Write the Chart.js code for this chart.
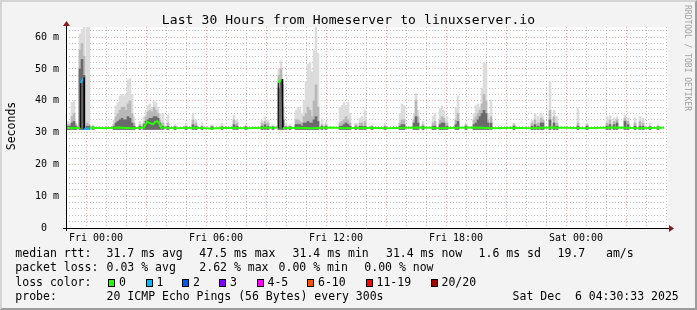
<!DOCTYPE html>
<html>
<head>
<meta charset="utf-8">
<script src="https://cdn.jsdelivr.net/npm/chart.js@4.4.1/dist/chart.umd.min.js"></script>
<style>
  body { margin: 0; background: #f3f3f3; }
  #wrap { position: relative; width: 697px; height: 310px; overflow: hidden; background: #f3f3f3;
          font-family: 'DejaVu Sans Mono', monospace; color: #000; }
  canvas { position: absolute; left: 0; top: 0; }
  .t { position: absolute; white-space: pre; font-size: 11.5px; line-height: 14px; }
  .box { position: absolute; width: 5px; height: 6px; border: 1px solid #000; top: 278.5px; }
  #title { position: absolute; left: 0; width: 697px; top: 11.5px; text-align: center;
           font-size: 13px; line-height: 16px; letter-spacing: 0.12px; white-space: pre; }
  #ylab { position: absolute; left: -19px; top: 119px; width: 60px; text-align: center;
          font-size: 11.5px; line-height: 14px; transform: rotate(-90deg); }
  #mark { position: absolute; left: 633px; top: 53px; width: 108px; text-align: center;
          font-size: 8px; line-height: 10px; color: #a0a0a0; transform: rotate(90deg); white-space: pre; }
  #frame { position: absolute; left: 0; top: 0; width: 697px; height: 310px; box-sizing: border-box;
           border-style: solid; border-width: 2px; border-color: #d4d4d4 #9c9c9c #9c9c9c #d4d4d4; pointer-events: none; }
</style>
</head>
<body>
<div id="wrap">
  <canvas id="smoke" width="697" height="310"></canvas>
  <div id="title">Last 30 Hours from Homeserver to linuxserver.io</div>
  <div id="ylab">Seconds</div>
  <div id="mark">RRDTOOL / TOBI OETIKER</div>

  <div class="t" style="left:15.3px;top:246px">median rtt:</div>
  <div class="t" style="left:106.6px;top:246px">31.7 ms avg</div>
  <div class="t" style="left:199.3px;top:246px">47.5 ms max</div>
  <div class="t" style="left:292.6px;top:246px">31.4 ms min</div>
  <div class="t" style="left:386px;top:246px">31.4 ms now</div>
  <div class="t" style="left:478.6px;top:246px">1.6 ms sd</div>
  <div class="t" style="left:557.6px;top:246px">19.7</div>
  <div class="t" style="left:606px;top:246px">am/s</div>

  <div class="t" style="left:15.3px;top:260.3px">packet loss:</div>
  <div class="t" style="left:106.6px;top:260.3px">0.03 % avg</div>
  <div class="t" style="left:199.3px;top:260.3px">2.62 % max</div>
  <div class="t" style="left:278.6px;top:260.3px">0.00 % min</div>
  <div class="t" style="left:364.3px;top:260.3px">0.00 % now</div>

  <div class="t" style="left:15.3px;top:274.5px">loss color:</div>
  <div id="lossLegend"></div>

  <div class="t" style="left:15.3px;top:288.7px">probe:</div>
  <div class="t" style="left:106.6px;top:288.7px">20 ICMP Echo Pings (56 Bytes) every 300s</div>
  <div class="t" style="left:512.6px;top:288.7px">Sat Dec  6 04:30:33 2025</div>
  <div id="frame"></div>
</div>
<script>
// x values are hours since Thu 22:30 (start of the 30 hour window)
const xTickHours = [1.5, 7.5, 13.5, 19.5, 25.5];
const xTickLabels = ["Fri 00:00", "Fri 06:00", "Fri 12:00", "Fri 18:00", "Sat 00:00"];
const yTickValues = [0, 10, 20, 30, 40, 50, 60];
const yTickLabels = ["0  ", "10 m", "20 m", "30 m", "40 m", "50 m", "60 m"];

const lossNames = ["0", "1", "2", "3", "4-5", "6-10", "11-19", "20/20"];
const lossColors = ["#26ff00", "#00b8ff", "#0059ff", "#7e00ff", "#ff00ff", "#ff5500", "#ff0000", "#a10000"];

// median rtt (ms) and loss colour index
const medianHours = [0, 0.4, 0.72, 0.735, 0.9, 0.91, 1.05, 1.2, 1.25, 2.0, 2.6, 3.3, 3.9, 3.98, 4.05, 4.2,
  4.35, 4.45, 4.55, 4.65, 4.75, 5.5, 6.4, 7.2, 8.1, 9.0, 9.9, 10.6, 10.615, 10.8, 10.835, 11.4, 12.3, 13.2,
  14.0, 15.0, 16.1, 17.0, 17.8, 18.7, 19.6, 20.5, 21.4, 22.3, 23.2, 24.1, 25.0, 25.9, 26.8, 27.7, 28.6, 29.9];
const medianMs = [31.5, 31.4, 31.5, 45.6, 47.3, 31.2, 31.2, 31.3, 31.5, 31.4, 31.6, 31.4, 31.6, 32.6, 33.4, 33.0,
  32.6, 33.3, 33.6, 33.0, 31.6, 31.4, 31.5, 31.3, 31.5, 31.4, 31.5, 31.5, 45.7, 46.8, 31.4, 31.5, 31.4, 31.6,
  31.4, 31.5, 31.4, 31.5, 31.6, 31.4, 31.5, 31.6, 31.4, 31.5, 31.4, 31.6, 31.5, 31.4, 31.5, 31.6, 31.4, 31.5];
const medianLoss = [0, 0, 0, 1, 1, 1, 1, 1, 0, 0, 0, 0, 0, 0, 0, 0,
  0, 0, 0, 0, 0, 0, 0, 0, 0, 0, 0, 0, 0, 0, 0, 0, 0, 0,
  0, 0, 0, 0, 0, 0, 0, 0, 0, 0, 0, 0, 0, 0, 0, 0, 0, 0];

// smoke: every column runs from smokeFloor up; light = max ping, mid / core = darker inner pings
const smokeFloor = 31.0;
const smokeHours = [0.10, 0.20, 0.30, 0.40, 0.50, 0.70, 0.80, 0.90, 1.05, 1.15, 1.35,
  2.40, 2.50, 2.60, 2.70, 2.80, 2.90, 3.00, 3.10, 3.20, 3.30, 3.40, 3.70,
  3.90, 4.00, 4.10, 4.20, 4.30, 4.40, 4.50, 4.60, 4.70, 4.85, 5.10, 5.45,
  6.00, 6.35, 6.50, 6.80, 7.30, 7.80, 8.40, 8.55, 9.00, 9.80, 9.95, 10.10, 10.35,
  10.65, 10.75, 10.85, 11.00, 11.20, 11.50, 11.60, 11.70, 11.80, 11.90, 12.00,
  12.10, 12.20, 12.30, 12.40, 12.50, 12.60, 12.80, 13.00,
  13.70, 13.80, 13.90, 14.00, 14.10, 14.20, 14.50, 14.70, 14.80, 14.95, 15.30, 15.95,
  16.70, 16.80, 16.90, 17.40, 17.50, 17.60, 17.85, 18.35, 18.45, 18.70, 18.80, 18.90, 19.05,
  19.50, 19.60, 20.00, 20.40, 20.50, 20.60, 20.70, 20.80, 20.90, 21.00, 21.10, 21.25,
  22.40, 23.30, 23.45, 23.60, 23.75, 23.85, 24.20, 24.40, 24.55, 25.60, 26.05,
  27.05, 27.20, 27.40, 27.55, 27.95, 28.10, 28.45, 28.70, 28.85, 29.20, 29.60];
const smokeHigh = [33.5, 33, 39.5, 40, 33, 61, 62.5, 63.2, 63.2, 63.2, 32.5,
  34, 38.5, 39.5, 41.5, 42, 41.5, 42, 46.5, 47, 42, 35, 33.5,
  35, 37, 38.5, 39, 38, 40, 39.5, 38, 36, 36, 35.5, 32.5,
  33, 36, 34, 33, 32.5, 33, 35.5, 34, 32.5, 34, 35, 34, 32.5,
  50, 52.5, 45, 33, 32.5, 37, 38, 37.5, 36, 40, 46,
  51.5, 52, 49, 56, 63.2, 55, 34, 33.5,
  38, 38.5, 39.5, 38.5, 39.5, 36, 33, 34.5, 35, 37, 32.5, 33,
  36, 39, 38.5, 36, 42.3, 37, 33.5, 35, 36, 37.5, 38.4, 37, 35,
  38, 41.6, 33, 36, 38.5, 39, 38, 44, 52, 51.5, 36, 40.3,
  33, 34, 36, 35, 36, 35, 46, 37, 35, 37.7, 33,
  35, 35.3, 34.5, 35, 35.5, 34.5, 34.6, 35, 34.5, 33, 32.5];
const smokeMid = [32.5, 32.5, 35, 36, 32.5, 56, 58, 54, 33, 32.5, 32,
  32.5, 35, 36, 37, 38, 38, 37, 39, 40, 36, 33, 32.5,
  33, 35, 36.5, 37, 36.5, 38, 37, 36, 34, 33, 33, 32,
  32, 34, 33, 32, 32, 32, 34, 33, 32, 33, 33.5, 33, 32,
  48, 50, 38, 32, 32, 34, 34, 33.5, 33, 35, 36,
  38, 37, 35, 40, 45, 38, 32.5, 32.5,
  33, 33.5, 34, 35, 34, 33, 32.5, 33, 33, 33.5, 32, 32,
  33, 34, 34, 34, 40, 35, 32.5, 33, 33.5, 34, 35, 34.5, 33,
  34, 36, 32.5, 34, 35, 36, 37, 39, 42, 40, 34, 35,
  32.5, 33, 34, 33, 34.5, 34, 37, 35, 33, 33, 32.5,
  33, 34, 33.5, 34, 34.5, 33.5, 33, 33.5, 33, 32, 32];
const smokeCore = [32, 32, 33, 33.5, 32, 50, 53, 48, 32, 32, 31.8,
  32, 33, 33.5, 34, 34.5, 34, 34, 35, 34.5, 33, 32, 32,
  32.5, 33.5, 34, 34.5, 34.5, 35, 35, 34.5, 33, 32, 32, 31.8,
  31.8, 32.5, 32, 31.8, 31.8, 31.8, 32.5, 32, 31.8, 32, 32.5, 32, 31.8,
  44, 46, 34, 31.8, 31.8, 32.5, 32.5, 32.5, 32, 33, 33,
  33.5, 33, 33, 34, 35, 33.5, 32, 32,
  32, 32, 32.5, 33, 32.5, 32, 31.8, 32, 32, 32, 31.8, 31.8,
  32, 32.5, 32.5, 33, 35, 33, 32, 32, 32, 32.5, 33, 33, 32,
  32.5, 33.5, 32, 32.5, 33, 34, 35, 36, 37, 36, 33, 33,
  32, 32, 32.5, 32, 33, 33, 34, 33, 32, 32, 32,
  32, 32.5, 32.5, 33, 33.5, 32.5, 32, 32, 32, 31.8, 31.8];

// loss colour legend
const lossBoxLeft = [108, 145.5, 182, 219, 256.5, 307, 365.5, 430.5];
const lossLegend = document.getElementById("lossLegend");
lossNames.forEach((name, i) => {
  const b = document.createElement("div");
  b.className = "box";
  b.style.left = lossBoxLeft[i] + "px";
  b.style.background = lossColors[i];
  lossLegend.appendChild(b);
  const t = document.createElement("div");
  t.className = "t";
  t.style.left = (lossBoxLeft[i] + 11) + "px";
  t.style.top = "274.5px";
  t.textContent = name;
  lossLegend.appendChild(t);
});

const minorGrid = "rgba(150,150,150,0.6)";
const majorGrid = "rgba(225,110,110,0.6)";
const axisFont = { family: "DejaVu Sans Mono", size: 10 };

const isJump = ctx => Math.abs(ctx.p1.parsed.y - ctx.p0.parsed.y) > 5;
const isMajorHour = v => ((v - 1.5) % 3 + 3) % 3 === 0;

const plotBack = {
  id: "plotBack",
  beforeDraw(chart) {
    const a = chart.chartArea;
    const c = chart.ctx;
    c.save();
    c.fillStyle = "#ffffff";
    c.fillRect(a.left, a.top, a.right - a.left + 2, a.bottom - a.top);
    c.restore();
  }
};

const axesArrows = {
  id: "axesArrows",
  afterDatasetsDraw(chart) {
    const a = chart.chartArea;
    const c = chart.ctx;
    c.save();
    c.strokeStyle = "#000";
    c.lineWidth = 1;
    c.beginPath();
    c.moveTo(a.left - 3, a.bottom + 0.5);
    c.lineTo(a.right + 4, a.bottom + 0.5);
    c.moveTo(a.left + 0.5, a.bottom + 3);
    c.lineTo(a.left + 0.5, a.top - 2);
    c.stroke();
    c.fillStyle = "#8b1a1a";
    c.beginPath();
    c.moveTo(a.right + 8, a.bottom + 0.5);
    c.lineTo(a.right + 3, a.bottom - 3);
    c.lineTo(a.right + 3, a.bottom + 4);
    c.closePath();
    c.fill();
    c.beginPath();
    c.moveTo(a.left + 0.5, a.top - 6);
    c.lineTo(a.left - 3, a.top - 1);
    c.lineTo(a.left + 4, a.top - 1);
    c.closePath();
    c.fill();
    c.restore();
  }
};

const smokeSet = (values, color, order) => ({
  data: smokeHours.map((h, i) => ({ x: h, y: [smokeFloor, values[i]] })),
  backgroundColor: color,
  borderWidth: 0,
  barThickness: 2,
  grouped: false,
  order
});

new Chart(document.getElementById("smoke"), {
  type: "bar",
  data: {
    datasets: [
      {
        type: "line",
        data: medianHours.map((h, i) => ({ x: h, y: medianMs[i] })),
        borderColor: lossColors[0],
        borderWidth: 2,
        pointRadius: 0,
        tension: 0,
        order: 0,
        segment: {
          borderColor: ctx => isJump(ctx) ? "#000" : lossColors[medianLoss[ctx.p1DataIndex]],
          borderWidth: ctx => isJump(ctx) ? 1 : 2
        }
      },
      smokeSet(smokeCore, "#6a6a6a", 1),
      smokeSet(smokeMid, "#b8b8b8", 2),
      smokeSet(smokeHigh, "#dcdcdc", 3)
    ]
  },
  options: {
    responsive: false,
    animation: false,
    devicePixelRatio: 1,
    layout: { padding: { left: 0, right: 31, top: 27, bottom: 0 } },
    plugins: { legend: { display: false }, tooltip: { enabled: false } },
    scales: {
      x: {
        type: "linear",
        min: 0,
        max: 30,
        offset: false,
        afterFit: s => { s.height = 82; },
        afterBuildTicks: s => {
          const t = [];
          for (let h = 0.5; h < 30; h += 1) t.push({ value: h });
          s.ticks = t;
        },
        ticks: {
          autoSkip: false,
          maxRotation: 0,
          padding: 4,
          color: "#000",
          font: axisFont,
          callback: v => {
            const i = xTickHours.indexOf(v);
            return i >= 0 ? xTickLabels[i] : "";
          }
        },
        grid: {
          drawTicks: false,
          color: c => (c.tick && isMajorHour(c.tick.value)) ? majorGrid : minorGrid
        },
        border: { display: false, dash: [1, 2] }
      },
      y: {
        min: 0,
        max: 63.2,
        afterFit: s => { s.width = 66; },
        afterBuildTicks: s => {
          const t = [];
          for (let v = 0; v <= 62; v += 2) t.push({ value: v });
          s.ticks = t;
        },
        ticks: {
          autoSkip: false,
          padding: 7,
          color: "#000",
          font: axisFont,
          callback: v => {
            const i = yTickValues.indexOf(v);
            return i >= 0 ? yTickLabels[i] : "";
          }
        },
        grid: {
          drawTicks: false,
          color: c => (c.tick && c.tick.value % 10 === 0) ? majorGrid : minorGrid
        },
        border: { display: false, dash: [1, 2] }
      }
    }
  },
  plugins: [plotBack, axesArrows]
});
</script>
</body>
</html>
